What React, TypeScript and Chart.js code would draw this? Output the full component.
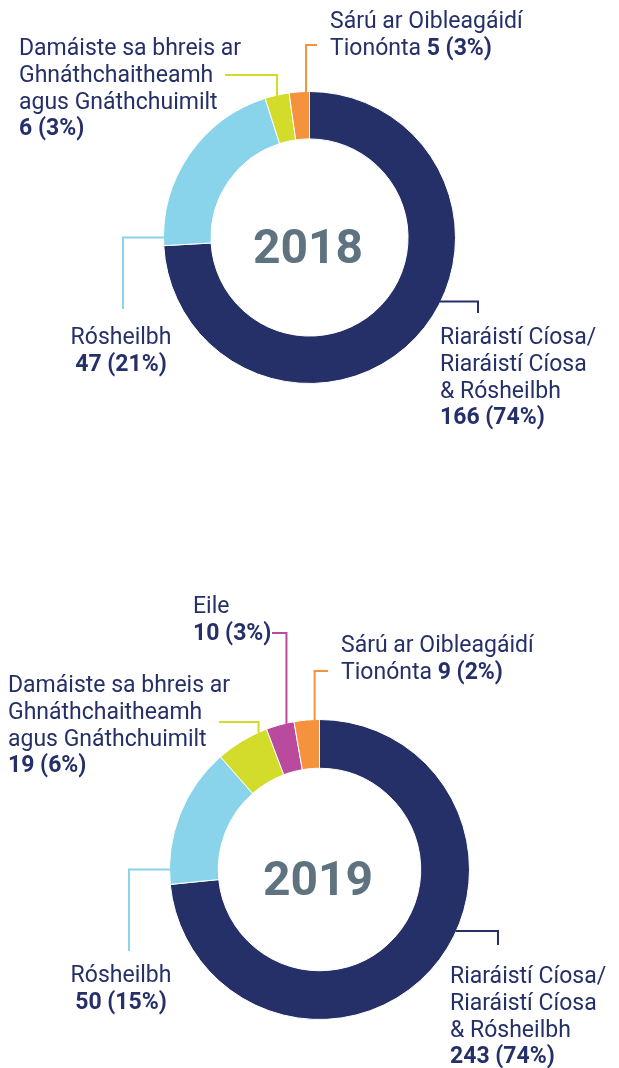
import React, { useEffect, useRef } from "react";
import { Chart, registerables } from "chart.js";

Chart.register(...registerables);

// ---------- DATA ----------
const years = ["2018", "2019"];

const categories2018 = [
  ["Riaráistí Cíosa/", "Riaráistí Cíosa", "& Rósheilbh"],
  ["Rósheilbh"],
  ["Damáiste sa bhreis ar", "Ghnáthchaitheamh", "agus Gnáthchuimilt"],
  ["Sárú ar Oibleagáidí", "Tionónta"],
];
const values2018 = [166, 47, 6, 5];
const percents2018 = [74, 21, 3, 3];

const categories2019 = [
  ["Riaráistí Cíosa/", "Riaráistí Cíosa", "& Rósheilbh"],
  ["Rósheilbh"],
  ["Damáiste sa bhreis ar", "Ghnáthchaitheamh", "agus Gnáthchuimilt"],
  ["Eile"],
  ["Sárú ar Oibleagáidí", "Tionónta"],
];
const values2019 = [243, 50, 19, 10, 9];
const percents2019 = [74, 15, 6, 3, 2];

// ---------- STYLE ----------
const NAVY = "#253068";
const LIGHTBLUE = "#89D4EB";
const YELLOW = "#D4DC2B";
const MAGENTA = "#B94A9E";
const ORANGE = "#F5923E";
const CENTER_GREY = "#5E737F";
const TEXT = "#253068";
const FONT = "Roboto, 'Noto Sans', sans-serif";
const FONT_SIZE = 23;
const LINE_H = 26.8;

const colors2018 = [NAVY, LIGHTBLUE, YELLOW, ORANGE];
const colors2019 = [NAVY, LIGHTBLUE, YELLOW, MAGENTA, ORANGE];

type LabelCfg = {
  x: number;
  y: number;
  align: "left" | "center";
  inline?: boolean;
  leader: { dir: "h" | "v"; frac: number; elbow: number; end: number };
};

type ChartCfg = {
  year: string;
  categories: string[][];
  values: number[];
  percents: number[];
  colors: string[];
  height: number;
  padding: { left: number; right: number; top: number; bottom: number };
  labels: LabelCfg[];
};

const chart2018: ChartCfg = {
  year: years[0],
  categories: categories2018,
  values: values2018,
  percents: percents2018,
  colors: colors2018,
  height: 534,
  padding: { left: 163, right: 163, top: 91, bottom: 150 },
  labels: [
    { x: 440, y: 344, align: "left", leader: { dir: "h", frac: 0.435, elbow: 478, end: 313 } },
    { x: 121, y: 344, align: "center", leader: { dir: "h", frac: 0.042, elbow: 123, end: 309 } },
    { x: 19, y: 55, align: "left", leader: { dir: "v", frac: 0.5, elbow: 75, end: 225 } },
    { x: 330, y: 28, align: "left", inline: true, leader: { dir: "v", frac: 0.83, elbow: 45, end: 317 } },
  ],
};

const OFF2 = 534;
const chart2019: ChartCfg = {
  year: years[1],
  categories: categories2019,
  values: values2019,
  percents: percents2019,
  colors: colors2019,
  height: 534,
  padding: { left: 169, right: 149, top: 185, bottom: 48 },
  labels: [
    { x: 450, y: 983 - OFF2, align: "left", leader: { dir: "h", frac: 0.432, elbow: 498, end: 945 - OFF2 } },
    { x: 121, y: 982 - OFF2, align: "center", leader: { dir: "h", frac: 0.105, elbow: 129, end: 951 - OFF2 } },
    { x: 8, y: 692 - OFF2, align: "left", leader: { dir: "v", frac: 0.84, elbow: 722 - OFF2, end: 219 } },
    { x: 193, y: 613 - OFF2, align: "left", leader: { dir: "v", frac: 0.73, elbow: 633 - OFF2, end: 272 } },
    { x: 341, y: 652 - OFF2, align: "left", inline: true, leader: { dir: "v", frac: 0.81, elbow: 671 - OFF2, end: 328 } },
  ],
};

type Seg = { text: string; bold: boolean };

function buildLines(cat: string[], value: number, pct: number, inline?: boolean): Seg[][] {
  const valueText = `${value} (${pct}%)`;
  const lines: Seg[][] = cat.map((t) => [{ text: t, bold: false }]);
  if (inline) {
    lines[lines.length - 1].push({ text: " " + valueText, bold: true });
  } else {
    lines.push([{ text: valueText, bold: true }]);
  }
  return lines;
}

function fontFor(bold: boolean) {
  return `${bold ? "700" : "400"} ${FONT_SIZE}px ${FONT}`;
}

function makePlugin(cfg: ChartCfg) {
  return {
    id: "leaderLabels",
    afterDatasetsDraw(chart: any) {
      const ctx: CanvasRenderingContext2D = chart.ctx;
      const meta = chart.getDatasetMeta(0);
      ctx.save();
      let cx = 0;
      let cy = 0;
      cfg.labels.forEach((lab, i) => {
        const arc = meta.data[i];
        const p = arc.getProps(["x", "y", "startAngle", "endAngle", "outerRadius"], true);
        cx = p.x;
        cy = p.y;
        const a = p.startAngle + lab.leader.frac * (p.endAngle - p.startAngle);
        const ax = p.x + p.outerRadius * Math.cos(a);
        const ay = p.y + p.outerRadius * Math.sin(a);
        ctx.strokeStyle = cfg.colors[i];
        ctx.lineWidth = 2;
        ctx.lineJoin = "miter";
        ctx.lineCap = "butt";
        ctx.beginPath();
        if (lab.leader.dir === "v") {
          ctx.moveTo(ax, ay + 1);
          ctx.lineTo(ax, lab.leader.elbow);
          ctx.lineTo(lab.leader.end, lab.leader.elbow);
        } else {
          const sx = ax < p.x ? ax + 1 : ax - 1;
          ctx.moveTo(sx, ay);
          ctx.lineTo(lab.leader.elbow, ay);
          ctx.lineTo(lab.leader.elbow, lab.leader.end);
        }
        ctx.stroke();

        const lines = buildLines(cfg.categories[i], cfg.values[i], cfg.percents[i], lab.inline);
        ctx.fillStyle = TEXT;
        ctx.textBaseline = "alphabetic";
        ctx.textAlign = "left";
        lines.forEach((segs, li) => {
          let w = 0;
          segs.forEach((s) => {
            ctx.font = fontFor(s.bold);
            w += ctx.measureText(s.text).width;
          });
          let x = lab.align === "center" ? lab.x - w / 2 : lab.x;
          const y = lab.y + li * LINE_H;
          segs.forEach((s) => {
            ctx.font = fontFor(s.bold);
            ctx.fillText(s.text, x, y);
            x += ctx.measureText(s.text).width;
          });
        });
      });

      // centre year
      ctx.font = `700 48px ${FONT}`;
      ctx.fillStyle = CENTER_GREY;
      ctx.textAlign = "center";
      ctx.textBaseline = "alphabetic";
      ctx.fillText(cfg.year, cx - 1.5, cy + 25.5);
      ctx.restore();
    },
  };
}

function Donut({ cfg }: { cfg: ChartCfg }) {
  const ref = useRef<HTMLCanvasElement>(null);
  useEffect(() => {
    if (!ref.current) return;
    const chart = new Chart(ref.current, {
      type: "doughnut",
      data: {
        labels: cfg.categories.map((c) => c.join(" ")),
        datasets: [
          {
            data: cfg.values,
            backgroundColor: cfg.colors,
            borderColor: "#ffffff",
            borderWidth: 1,
            hoverOffset: 0,
          },
        ],
      },
      options: {
        responsive: false,
        animation: false,
        cutout: "67.5%",
        events: [],
        layout: { padding: cfg.padding },
        plugins: {
          legend: { display: false },
          tooltip: { enabled: false },
          title: { display: false },
        },
      },
      plugins: [makePlugin(cfg)],
    });
    return () => chart.destroy();
  }, [cfg]);
  return <canvas ref={ref} width={619} height={cfg.height} style={{ display: "block", width: 619, height: cfg.height }} />;
}

export default function App() {
  return (
    <div style={{ position: "absolute", left: 0, top: 0, width: 619, height: 1068, background: "#ffffff" }}>
      <Donut cfg={chart2018} />
      <Donut cfg={chart2019} />
    </div>
  );
}
